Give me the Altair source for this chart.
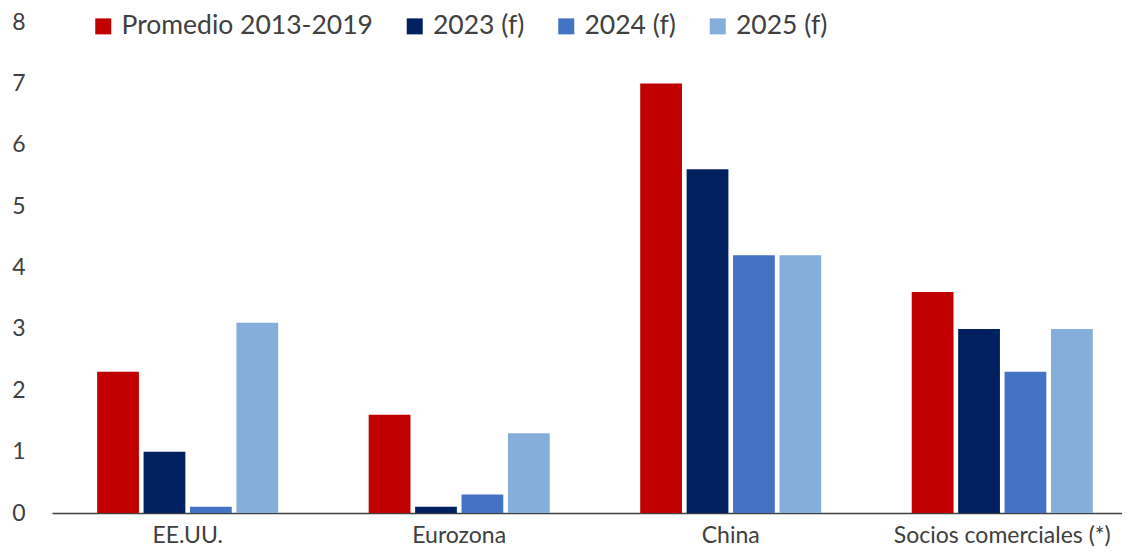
import altair as alt
import pandas as pd

categories = ["EE.UU.", "Eurozona", "China", "Socios comerciales (*)"]
series = ["Promedio 2013-2019", "2023 (f)", "2024 (f)", "2025 (f)"]
promedio = [2.3, 1.6, 7.0, 3.6]
f2023 = [1.0, 0.1, 5.6, 3.0]
f2024 = [0.1, 0.3, 4.2, 2.3]
f2025 = [3.1, 1.3, 4.2, 3.0]
colors = ["#C00000", "#002060", "#4472C4", "#86AEDB"]
y_ticks = list(range(0, 9))

rows = []
for s, vals in zip(series, [promedio, f2023, f2024, f2025]):
    for c, v in zip(categories, vals):
        rows.append({"cat": c, "serie": s, "valor": v})
df = pd.DataFrame(rows)

text_color = "#404040"

chart = alt.Chart(df).mark_bar().encode(
    x=alt.X("cat:N", sort=categories, title=None,
            scale=alt.Scale(paddingInner=0.3333, paddingOuter=0.137, align=0.607),
            axis=alt.Axis(labelAngle=0, labelFontSize=23, labelColor=text_color,
                          labelPadding=11, ticks=False, domainColor=text_color,
                          domainWidth=1.3, labelLimit=400)),
    xOffset=alt.XOffset("serie:N", sort=series, scale=alt.Scale(paddingInner=0.1)),
    y=alt.Y("valor:Q", title=None, scale=alt.Scale(domain=[0, 8], nice=False),
            axis=alt.Axis(values=y_ticks, grid=False, domain=False, ticks=False,
                          labelFontSize=23, labelPadding=27, labelColor=text_color)),
    color=alt.Color("serie:N", sort=series,
                    scale=alt.Scale(domain=series, range=colors),
                    legend=alt.Legend(title=None, orient="none", legendX=38, legendY=-9,
                                      direction="horizontal", columns=4,
                                      symbolType="square", symbolSize=256,
                                      symbolStrokeWidth=0, labelFontSize=26.5,
                                      labelColor=text_color, labelOffset=5,
                                      columnPadding=28.5, labelLimit=400)),
).properties(
    width=1070, height=491,
    padding={"left": 44, "top": 14, "right": 0, "bottom": 35},
    autosize="none",
).configure(font="Lato").configure_view(stroke=None)

chart.save("out.html", embed_options={"renderer": "svg", "actions": False})
